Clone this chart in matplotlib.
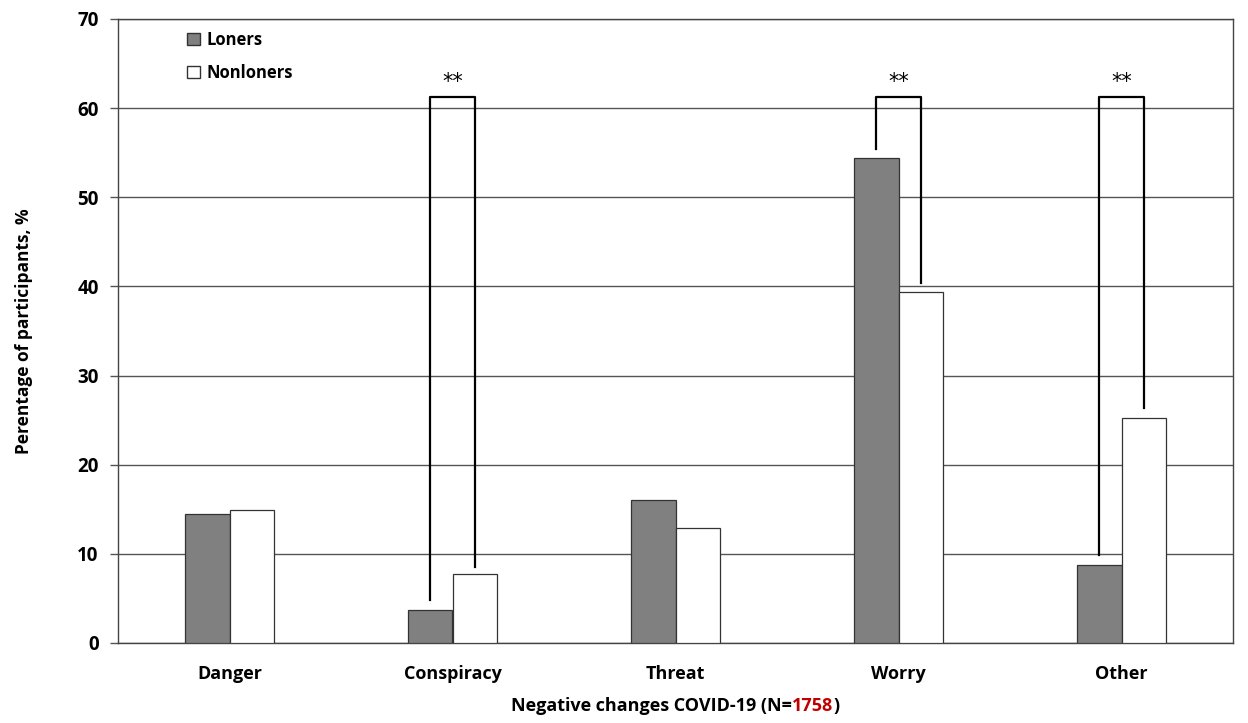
import matplotlib
matplotlib.use("Agg")
from matplotlib import pyplot as plt
from matplotlib.patches import Patch
from matplotlib.offsetbox import TextArea, HPacker, AnchoredOffsetbox
import numpy as np

categories = ["Danger", "Conspiracy", "Threat", "Worry", "Other"]
loners = [14.5, 3.7, 16.0, 54.4, 8.7]
nonloners = [14.9, 7.7, 12.9, 39.4, 25.2]
# significant pairs: (category index, left leg start, right leg start, top)
sig_pairs = [(1, 4.8, 8.5, 61.3), (3, 55.4, 40.4, 61.3), (4, 9.9, 26.4, 61.3)]
sig_label = "**"

plt.rcParams["font.family"] = ["Open Sans", "DejaVu Sans"]

fig = plt.figure(figsize=(12.48, 7.23), dpi=100)
ax = fig.add_axes([118 / 1248, 80 / 723, (1233 - 118) / 1248, (643 - 19) / 723])

x = np.arange(len(categories))
w = 0.2
ax.bar(x - w / 2, loners, w, color="#808080", edgecolor="#333333", linewidth=0.9,
       label="Loners", zorder=3)
ax.bar(x + w / 2, nonloners, w, color="white", edgecolor="#333333", linewidth=0.9,
       label="Nonloners", zorder=3)

for i, y1, y2, top in sig_pairs:
    xl, xr = i - w / 2, i + w / 2
    ax.plot([xl, xl, xr, xr], [y1, top, top, y2], color="black", lw=1.6, zorder=4)
    ax.text(i, top + 0.5, sig_label, ha="center", va="bottom", fontsize=15,
            family="DejaVu Sans", zorder=4)

ax.set_xlim(-0.5, 4.5)
ax.set_ylim(0, 70)
ax.set_yticks(range(0, 71, 10))
ax.yaxis.grid(True, color="#555555", lw=1.0, zorder=0)
ax.set_xticks(x)
ax.set_xticklabels(categories, fontsize=13, fontweight="bold")
ax.tick_params(axis="x", length=0, pad=16)
ax.tick_params(axis="y", length=6, width=1, labelsize=13.5, color="#555555", pad=8)
for lab in ax.get_yticklabels():
    lab.set_fontweight("bold")
for sp in ax.spines.values():
    sp.set_color("#444444")
    sp.set_linewidth(1.0)

ax.set_ylabel("Perentage of participants, %", fontsize=12.5, fontweight="bold", labelpad=32)

handles = [Patch(facecolor="#808080", edgecolor="#333333", label="Loners"),
           Patch(facecolor="white", edgecolor="#333333", label="Nonloners")]
ax.legend(handles=handles, loc="upper left", bbox_to_anchor=(0.048, 1.005), frameon=False,
          handlelength=0.8, handleheight=0.8, handletextpad=0.4, labelspacing=0.9,
          prop={"weight": "bold", "size": 12})

# x label with red count
parts = [TextArea("Negative changes COVID-19 (N=", textprops=dict(fontsize=13, fontweight="bold")),
         TextArea("1758", textprops=dict(fontsize=13, fontweight="bold", color="#c00000")),
         TextArea(")", textprops=dict(fontsize=13, fontweight="bold"))]
box = HPacker(children=parts, align="baseline", pad=0, sep=0)
anch = AnchoredOffsetbox(loc="upper center", child=box, frameon=False, pad=0,
                         bbox_to_anchor=(0.5, -0.075), bbox_transform=ax.transAxes)
ax.add_artist(anch)

fig.savefig("out.png", dpi=100)
